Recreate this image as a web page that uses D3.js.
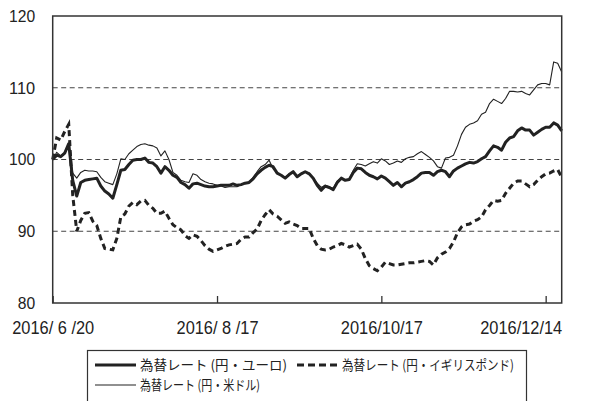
<!DOCTYPE html>
<html><head><meta charset="utf-8">
<script src="https://cdn.jsdelivr.net/npm/d3@7/dist/d3.min.js"></script>
<style>
html,body{margin:0;padding:0;background:#fff;}
svg{display:block;}
</style>
</head><body>
<svg id="chart" width="589" height="401"></svg>
<script>
// Business-day index (0 = 2016/6/20)
const tickIndex = [0, 41, 82, 123];
const tickLabels = ["2016/ 6 /20", "2016/ 8 /17", "2016/10/17", "2016/12/14"];
const yTicks = [80, 90, 100, 110, 120];
const gridValues = [90, 100, 110];
const seriesNames = ["為替レート (円・ユーロ)", "為替レート (円・イギリスポンド)", "為替レート (円・米ドル)"];

const euro = [100.0,100.6,100.4,100.9,102.2,97.1,94.9,96.8,97.1,97.2,97.3,97.4,96.3,95.6,95.2,94.6,96.5,98.5,98.6,99.3,
99.9,100.0,100.0,100.2,99.6,99.5,99.0,98.1,99.0,98.5,97.8,97.5,96.8,96.5,96.0,96.6,96.7,96.5,96.3,96.2,
96.2,96.3,96.4,96.4,96.4,96.6,96.4,96.5,96.7,96.8,97.3,98.0,98.5,98.9,99.2,99.0,98.1,97.8,97.4,97.9,
98.3,97.6,98.0,98.3,98.0,97.4,96.4,95.7,96.3,96.1,95.8,96.8,97.4,97.1,97.2,98.2,98.8,98.7,98.2,97.8,
97.6,97.3,97.7,97.4,96.9,96.4,96.8,96.2,96.7,96.9,97.2,97.6,98.1,98.2,98.2,97.8,98.3,98.5,98.3,97.6,
98.4,98.8,99.1,99.4,99.6,99.5,99.7,100.1,100.4,101.2,101.9,101.7,101.3,102.4,103.0,103.2,104.0,104.4,104.1,104.1,
103.4,103.8,104.2,104.5,104.5,105.1,104.8,104.0];

const gbp = [100.0,103.0,102.7,103.9,104.9,95.0,90.0,91.5,92.5,92.6,91.4,90.8,89.0,87.6,87.5,87.4,89.0,92.0,92.4,93.5,
94.0,93.7,94.2,94.3,93.6,93.2,92.5,92.5,92.8,91.8,90.9,90.5,90.2,89.4,89.0,89.5,89.3,88.7,88.0,87.5,
87.2,87.4,87.6,87.9,88.1,88.2,88.3,88.9,89.2,89.2,89.8,90.3,91.5,92.3,93.0,92.4,92.1,91.6,91.1,91.3,
91.0,90.8,90.4,90.4,90.4,89.0,88.0,87.5,87.4,87.5,87.8,88.0,88.3,88.1,87.8,88.0,88.2,87.5,86.2,85.2,
84.8,84.5,85.0,85.7,85.5,85.3,85.3,85.4,85.5,85.6,85.6,85.7,85.8,85.9,85.8,85.3,86.3,86.8,87.1,87.6,
88.5,89.8,90.6,90.9,91.0,91.4,91.6,92.0,93.0,93.6,94.3,94.2,94.3,95.3,96.0,96.7,97.0,97.0,96.6,96.2,
96.5,97.1,97.6,98.0,98.1,98.4,98.6,97.5];

const usd = [100.0,101.0,100.5,101.0,102.0,98.1,97.4,98.2,98.5,98.4,98.4,98.3,97.5,96.9,96.7,96.5,98.0,100.1,100.0,100.8,
101.3,101.8,102.1,102.2,102.0,101.9,101.6,100.5,101.2,100.0,98.2,97.8,97.1,96.9,96.8,98.0,97.8,97.2,96.9,96.7,
96.6,96.4,96.3,96.1,96.2,96.2,96.2,96.5,96.7,96.8,97.5,98.3,99.0,99.3,99.9,98.7,98.1,97.8,97.5,98.0,
98.2,97.7,98.1,98.3,98.1,97.4,96.7,96.1,96.4,96.2,96.0,97.0,97.4,97.1,97.3,98.5,99.4,99.3,99.1,99.4,
99.7,99.5,100.1,99.8,99.3,99.5,99.8,99.6,100.1,100.3,100.4,100.8,101.1,100.7,100.3,99.8,99.0,98.8,100.2,100.3,
100.6,101.9,103.5,104.5,104.9,105.1,105.4,106.3,106.6,107.8,108.4,108.1,107.8,108.5,109.5,109.5,109.4,109.5,109.2,109.0,
109.7,110.4,110.6,110.6,110.4,113.6,113.4,112.2];

const svg = d3.select("#chart");
const plot = {left: 52.7, right: 561.7, top: 16, bottom: 303};
const ink = "#222";
const numFont = "'Liberation Sans Narrow','Liberation Sans',Arial,sans-serif";
const labelW = 82;

const x = d3.scaleLinear().domain([0, euro.length - 1]).range([plot.left, plot.right]);
const y = d3.scaleLinear().domain([80, 120]).range([plot.bottom, plot.top]);

// grid
svg.append("g").selectAll("line").data(gridValues).join("line")
  .attr("x1", plot.left).attr("x2", plot.right)
  .attr("y1", d => y(d)).attr("y2", d => y(d))
  .attr("stroke", "#444").attr("stroke-width", 1).attr("stroke-dasharray", "5,3.5");

// y axis labels
const yAxis = d3.axisLeft(y).tickValues(yTicks).tickSize(0).tickPadding(17.5);
const gy = svg.append("g").attr("transform", `translate(${plot.left},0)`).call(yAxis);
gy.select(".domain").remove();
gy.selectAll("text").attr("fill", ink)
  .attr("textLength", d => String(d).length * 8.7).attr("lengthAdjust", "spacingAndGlyphs")
  .style("font-family", numFont).style("font-size", "17px");

// x axis
const xAxis = d3.axisBottom(x).tickValues(tickIndex).tickSize(-7).tickPadding(18)
  .tickFormat((d, i) => tickLabels[i]);
const gx = svg.append("g").attr("transform", `translate(0,${plot.bottom})`).call(xAxis);
gx.select(".domain").remove();
gx.selectAll("line").attr("stroke", "#333").attr("stroke-width", 1.3);
gx.selectAll("text").attr("fill", ink)
  .attr("textLength", labelW).attr("lengthAdjust", "spacingAndGlyphs")
  .style("font-family", numFont).style("font-size", "18px")
  .attr("x", d => {
    const cx = x(d);
    const lo = 2 + labelW / 2, hi = plot.right - labelW / 2;
    return Math.min(Math.max(cx, lo), hi) - cx;
  });

// series
const line = d3.line().x((d, i) => x(i)).y(d => y(d));
svg.append("path").datum(usd).attr("d", line).attr("fill", "none")
  .attr("stroke", ink).attr("stroke-width", 1.1).attr("stroke-linejoin", "round");
svg.append("path").datum(euro).attr("d", line).attr("fill", "none")
  .attr("stroke", ink).attr("stroke-width", 3).attr("stroke-linejoin", "round");
svg.append("path").datum(gbp).attr("d", line).attr("fill", "none")
  .attr("stroke", ink).attr("stroke-width", 3).attr("stroke-dasharray", "6,4");

// frame
svg.append("rect").attr("x", plot.left).attr("y", plot.top)
  .attr("width", plot.right - plot.left).attr("height", plot.bottom - plot.top)
  .attr("fill", "none").attr("stroke", "#333").attr("stroke-width", 1.5);

// legend
const lg = svg.append("g");
lg.append("rect").attr("x", 87.5).attr("y", 350.5).attr("width", 439).attr("height", 70)
  .attr("fill", "#fff").attr("stroke", "#333").attr("stroke-width", 1.2);
const legendItems = [
  {name: seriesNames[0], x: 95, y: 365, w: 3, dash: null, tw: 147},
  {name: seriesNames[1], x: 297, y: 365, w: 3, dash: "7,4", tw: 172},
  {name: seriesNames[2], x: 95, y: 385, w: 1.1, dash: null, tw: 120}
];
legendItems.forEach(it => {
  lg.append("line").attr("x1", it.x).attr("x2", it.x + 41).attr("y1", it.y).attr("y2", it.y)
    .attr("stroke", ink).attr("stroke-width", it.w).attr("stroke-dasharray", it.dash);
  lg.append("text").attr("x", it.x + 45).attr("y", it.y).attr("dy", "0.36em")
    .attr("fill", ink).attr("textLength", it.tw).attr("lengthAdjust", "spacingAndGlyphs")
    .style("font-family", "'Noto Sans CJK JP',sans-serif").style("font-size", "13.5px")
    .text(it.name);
});
</script>
</body></html>
